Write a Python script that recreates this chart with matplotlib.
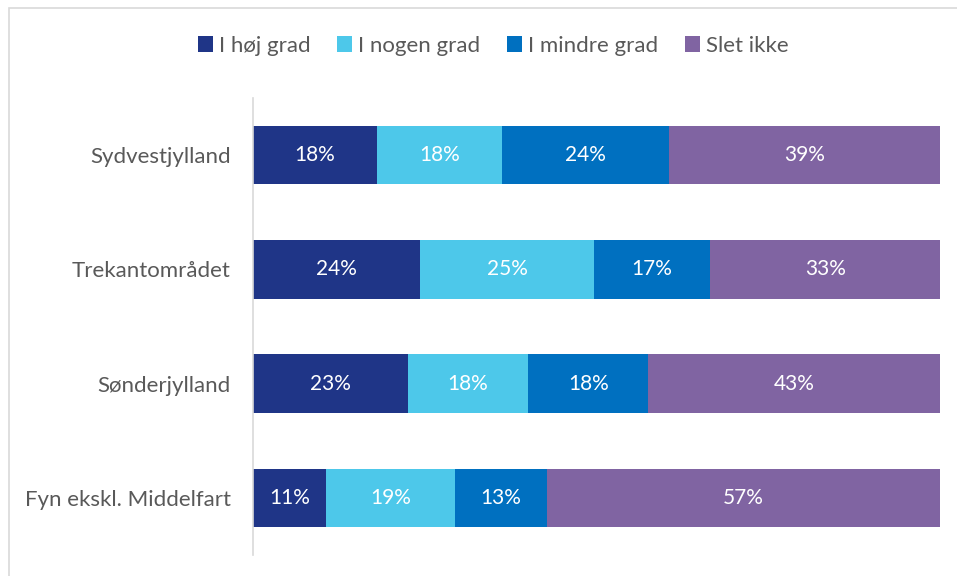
import matplotlib.pyplot as plt
import numpy as np
from matplotlib.patches import Rectangle

plt.rcParams['font.family'] = ['Lato', 'DejaVu Sans']

regions = ['Sydvestjylland', 'Trekantområdet', 'Sønderjylland', 'Fyn ekskl. Middelfart']
series = ['I høj grad', 'I nogen grad', 'I mindre grad', 'Slet ikke']
colors = ['#1F3587', '#4DC8EA', '#0070C0', '#8064A2']

# shares in percent (rows: series, cols: regions)
hoj = [18.0, 24.3, 22.6, 10.6]
nogen = [18.2, 25.3, 17.6, 18.8]
mindre = [24.3, 16.9, 17.5, 13.4]
slet = [39.4, 33.4, 42.6, 57.2]

data = np.array([hoj, nogen, mindre, slet])
shares = data / data.sum(axis=0)  # 100% stacked

W, H = 957, 576
fig = plt.figure(figsize=(W / 100, H / 100), dpi=100)
ax = fig.add_axes([253 / W, 1 - 555 / H, (940 - 253) / W, (555 - 98) / H])

y = np.arange(len(regions))
left = np.zeros(len(regions))
for i, name in enumerate(series):
    ax.barh(y, shares[i], left=left, height=0.51, color=colors[i], label=name)
    for j in range(len(regions)):
        ax.text(left[j] + shares[i][j] / 2, y[j], '%d%%' % round(data[i][j]),
                ha='center', va='center', color='white', fontsize=15)
    left += shares[i]

ax.set_xlim(0, 1)
ax.set_ylim(len(regions) - 0.5, -0.5)
ax.set_yticks(y)
ax.set_yticklabels(regions, fontsize=16, color='#595959')
ax.tick_params(axis='y', length=0, pad=16)
ax.set_xticks([])
for s in ['top', 'right', 'bottom']:
    ax.spines[s].set_visible(False)
ax.spines['left'].set_color('#D9D9D9')
ax.spines['left'].set_linewidth(1.2)

leg = fig.legend(loc='center', bbox_to_anchor=(493 / W, 1 - 46 / H), ncol=4,
                 frameon=False, fontsize=16, handlelength=0.7, handleheight=0.7,
                 handletextpad=0.25, columnspacing=1.2)
for t in leg.get_texts():
    t.set_color('#595959')

# chart border
fig.patches.append(Rectangle((9 / W, -0.1), 1.1, 1 - 8 / H + 0.1, transform=fig.transFigure,
                             fill=False, edgecolor='#D9D9D9', linewidth=1.2))

fig.savefig('out.png', dpi=100)
